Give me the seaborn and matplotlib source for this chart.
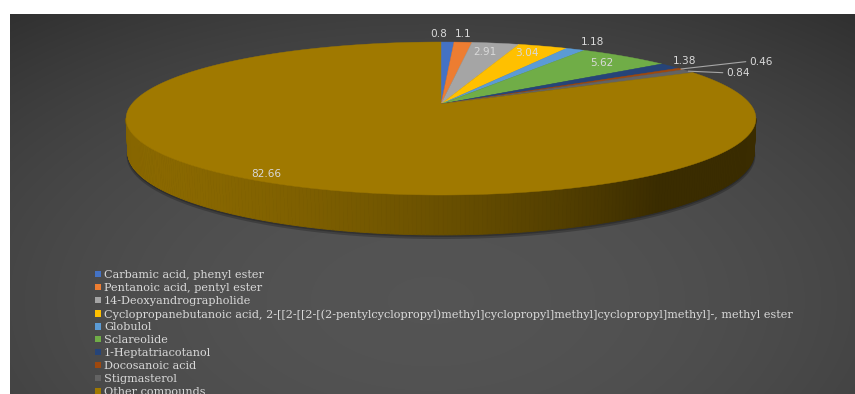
import matplotlib
matplotlib.use("Agg")
import matplotlib.pyplot as plt
from matplotlib.patches import Polygon, Patch
import numpy as np
import seaborn as sns

# ---------------------------------------------------------------------------
# Data
# ---------------------------------------------------------------------------
compounds = [
    "Carbamic acid, phenyl ester",
    "Pentanoic acid, pentyl ester",
    "14-Deoxyandrographolide",
    "Cyclopropanebutanoic acid, 2-[[2-[[2-[(2-pentylcyclopropyl)methyl]"
    "cyclopropyl]methyl]cyclopropyl]methyl]-, methyl ester",
    "Globulol",
    "Sclareolide",
    "1-Heptatriacotanol",
    "Docosanoic acid",
    "Stigmasterol",
    "Other compounds",
]
percent = [0.8, 1.1, 2.91, 3.04, 1.18, 5.62, 1.38, 0.46, 0.84, 82.66]
value_labels = ["0.8", "1.1", "2.91", "3.04", "1.18", "5.62", "1.38", "0.46", "0.84", "82.66"]

# ---------------------------------------------------------------------------
# Style
# ---------------------------------------------------------------------------
palette = sns.color_palette([
    "#4472C4", "#ED7D31", "#A5A5A5", "#FFC000", "#5B9BD5",
    "#70AD47", "#264478", "#9E480E", "#636363", "#A07900",
])
TEXT = "#d9d9d9"

# label placement: radial factor, pixel nudges, leader line flag
label_r = [1.13, 1.13, 0.80, 0.85, 1.15, 0.85, 1.08, 1.30, 1.15, 0.92]
label_dx = [-10, -2, -1, -3, 0, 2, -2, 1, 1, -2]
label_dy = [-1, -2, -2, -1, 0, 0, -2, 2, 6, 2]
leader = [False] * 7 + [True, True, False]

# simple perspective camera for the 3D pie (pixel units)
PHI = np.radians(13.8)
DIST = 5.12
FOCAL = 1583.0
HEIGHT = 0.110
CX, CY = 441.0, 104.0


def project(X, Z, Y=0.0):
    s, c = np.sin(PHI), np.cos(PHI)
    depth = DIST + c * Z - s * Y
    up = c * Y + s * Z
    return CX + FOCAL * X / depth, CY - FOCAL * up / depth


def arc(t1, t2, r=1.0, Y=0.0, n=120):
    t = np.radians(np.linspace(t1, t2, n))
    return project(r * np.cos(t), r * np.sin(t), Y)


sns.set_theme(style="dark")
plt.rcParams["font.family"] = ["DejaVu Sans"]

fig = plt.figure(figsize=(8.55, 3.94), dpi=100)
fig.patch.set_facecolor("white")
ax = fig.add_axes([0, 0, 1, 1])
ax.axis("off")

# dark radial background panel
gy, gx = np.mgrid[14:394, 10:855]
d2 = ((gx - 430) / 600.0) ** 2 + ((gy - 300) / 330.0) ** 2
shade = np.clip(0.19 + 0.14 * (1.0 - d2 / 1.24), 0.18, 0.33)
bg = np.dstack([shade, shade, shade])
ax.imshow(bg, extent=(10, 855, 394, 14), zorder=0, interpolation="bilinear")
ax.set_aspect("auto")
ax.set_xlim(0, 855)
ax.set_ylim(394, 0)

# slice angles: start at 12 o'clock, clockwise
frac = np.array(percent) / np.sum(percent) * 360.0
ends = 90.0 - np.cumsum(frac)
starts = ends + frac


def slice_at(tdeg):
    for i, (a, b) in enumerate(zip(ends, starts)):
        tt = (tdeg - a) % 360.0
        if tt <= (b - a):
            return i
    return len(percent) - 1


# thin soft shadow under the pie
for k in range(3):
    xs, ys = arc(0, 360, r=1.0 + 0.002 * k, Y=-HEIGHT - 0.005 * k, n=240)
    ax.add_patch(Polygon(np.c_[xs, ys], closed=True, facecolor="black",
                         edgecolor="none", alpha=0.22, zorder=1))

# visible side wall
lim = np.degrees(np.arcsin(1.0 / (DIST * np.cos(PHI))))
tside = np.linspace(180.0 + lim - 1.0, 360.0 - lim + 1.0, 240)
light = np.array([-0.8, -0.6])
for t1, t2 in zip(tside[:-1], tside[1:]):
    tm = np.radians(0.5 * (t1 + t2))
    f = 0.36 + 0.5 * max(0.0, np.cos(tm) * light[0] + np.sin(tm) * light[1])
    col = np.array(palette[slice_at(np.degrees(tm))]) * min(f, 1.0)
    xt, yt = arc(t1, t2, Y=0.0, n=4)
    xb, yb = arc(t2, t1, Y=-HEIGHT, n=4)
    ax.add_patch(Polygon(np.c_[np.r_[xt, xb], np.r_[yt, yb]], closed=True,
                         facecolor=col, edgecolor=col, linewidth=0.6, zorder=2))

# top face
for i, (a, b) in enumerate(zip(ends, starts)):
    xs, ys = arc(a, b, n=max(6, int(frac[i] * 2)))
    cx0, cy0 = project(0.0, 0.0)
    col = palette[i]
    ax.add_patch(Polygon(np.c_[np.r_[cx0, xs], np.r_[cy0, ys]], closed=True,
                         facecolor=col, edgecolor=col, linewidth=0.3, zorder=3))

# data labels
for i, (a, b) in enumerate(zip(ends, starts)):
    m = np.radians(0.5 * (a + b))
    r = label_r[i]
    px, py = project(r * np.cos(m), r * np.sin(m))
    px += label_dx[i]
    py += label_dy[i]
    if leader[i]:
        sx, sy = project(np.cos(m), np.sin(m))
        ax.plot([sx, px], [sy, py], color="#a6a6a6", lw=0.8, zorder=4)
        ax.text(px + 3, py, value_labels[i], color=TEXT, fontsize=7.6,
                ha="left", va="center", zorder=5)
    else:
        ax.text(px, py, value_labels[i], color=TEXT, fontsize=7.6,
                ha="center", va="center", zorder=5)

# legend
handles = [Patch(facecolor=palette[i], edgecolor="none", label=compounds[i])
           for i in range(len(compounds))]
leg = ax.legend(handles=handles, loc="upper left",
                bbox_to_anchor=(95, 270), bbox_transform=ax.transData,
                frameon=False, prop={"family": "DejaVu Serif", "size": 8.1},
                handlelength=0.5, handleheight=0.45, handletextpad=0.3,
                labelspacing=0.265, borderaxespad=0.0, borderpad=0.0)
for txt in leg.get_texts():
    txt.set_color(TEXT)

fig.savefig("out.png", dpi=100)
